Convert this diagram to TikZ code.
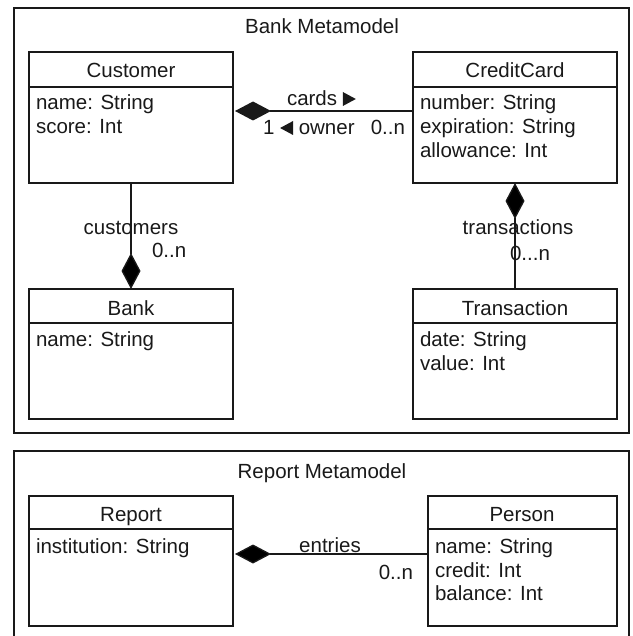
\documentclass[tikz,border=0pt]{standalone}
\usepackage{fontspec}
\setmainfont{Liberation Sans}
\usetikzlibrary{arrows.meta,calc}
\definecolor{ink}{RGB}{25,25,25}
% small filled direction triangles for association names
\newcommand{\rtri}{\tikz[baseline=0pt]\fill[ink] (0pt,0pt) -- (0pt,14pt) -- (13pt,7pt) -- cycle;}
\newcommand{\ltri}{\tikz[baseline=0pt]\fill[ink] (13pt,0pt) -- (13pt,14pt) -- (0pt,7pt) -- cycle;}

\begin{document}
\begin{tikzpicture}[x=1pt,y=-1pt,
  every node/.style={inner sep=0pt, outer sep=0pt, text=ink,
    font=\fontsize{20.5}{24}\selectfont},
  pkg/.style={draw=ink, line width=1.3pt, anchor=north west},
  cls/.style={draw=ink, line width=1.4pt, anchor=north west},
  hdr/.style={draw=ink, line width=1.4pt},
  ctitle/.style={anchor=base},
  attr/.style={anchor=base west},
  assoc/.style={draw=ink, line width=1.3pt, {Diamond[length=36pt,width=19pt]}-},
]
\useasboundingbox (0,0) rectangle (632,636);
\clip (0,0) rectangle (632,636);

% ---------- packages ----------
\node[pkg, minimum width=615pt, minimum height=425pt] (bankpkg) at (14,8) {};
\node[ctitle] (bankpkgT) at (322,34) {Bank Metamodel};
\node[pkg, minimum width=615pt, minimum height=200pt] (reportpkg) at (14,451) {};
\node[ctitle] (reportpkgT) at (322,478) {Report Metamodel};

% ---------- Bank metamodel classes ----------
\node[cls, minimum width=204pt, minimum height=131pt] (customer) at (29,52) {};
\draw[hdr] ($(customer.north west)+(0,35)$) -- ($(customer.north east)+(0,35)$);
\node[ctitle] (customerT) at (131,78) {Customer};
\node[attr] (customerA1) at (36,110) {name: String};
\node[attr] (customerA2) at (36,134) {score: Int};

\node[cls, minimum width=204pt, minimum height=131pt] (creditcard) at (413,52) {};
\draw[hdr] ($(creditcard.north west)+(0,35)$) -- ($(creditcard.north east)+(0,35)$);
\node[ctitle] (creditcardT) at (515,78) {CreditCard};
\node[attr] (creditcardA1) at (420,110) {number: String};
\node[attr] (creditcardA2) at (420,134) {expiration: String};
\node[attr] (creditcardA3) at (420,158) {allowance: Int};

\node[cls, minimum width=204pt, minimum height=130pt] (bank) at (29,289) {};
\draw[hdr] ($(bank.north west)+(0,34)$) -- ($(bank.north east)+(0,34)$);
\node[ctitle] (bankT) at (131,315) {Bank};
\node[attr] (bankA1) at (36,346) {name: String};

\node[cls, minimum width=204pt, minimum height=130pt] (transaction) at (413,289) {};
\draw[hdr] ($(transaction.north west)+(0,34)$) -- ($(transaction.north east)+(0,34)$);
\node[ctitle] (transactionT) at (515,315) {Transaction};
\node[attr] (transactionA1) at (420,346) {date: String};
\node[attr] (transactionA2) at (420,370) {value: Int};

% ---------- Bank metamodel associations ----------
\draw[assoc] ($(customer.north east)+(2,59)$) -- ($(creditcard.north west)+(0,59)$);
\node[anchor=base west] (cardsL) at (287,106) {cards \rtri};
\node[anchor=base west] (ownerL) at (263,135) {1 \ltri\ owner};
\node[anchor=base east] (cardsM) at (405,135) {0..n};

\draw[assoc] (bank.north) -- (customer.south);
\node[anchor=base] (customersL) at (131,234) {customers};
\node[anchor=base west] (customersM) at (152,257) {0..n};

\draw[assoc] (creditcard.south) -- (transaction.north);
\node[anchor=base] (transactionsL) at (518,234) {transactions};
\node[anchor=base west] (transactionsM) at (510,260) {0...n};

% ---------- Report metamodel ----------
\node[cls, minimum width=204pt, minimum height=130pt] (report) at (29,496) {};
\draw[hdr] ($(report.north west)+(0,33)$) -- ($(report.north east)+(0,33)$);
\node[ctitle] (reportT) at (131,521) {Report};
\node[attr] (reportA1) at (36,553) {institution: String};

\node[cls, minimum width=189pt, minimum height=130pt] (person) at (428,496) {};
\draw[hdr] ($(person.north west)+(0,33)$) -- ($(person.north east)+(0,33)$);
\node[ctitle] (personT) at (522,521) {Person};
\node[attr] (personA1) at (435,553) {name: String};
\node[attr] (personA2) at (435,577) {credit: Int};
\node[attr] (personA3) at (435,600) {balance: Int};

\draw[assoc] ($(report.north east)+(2,58)$) -- ($(person.north west)+(0,58)$);
\node[anchor=base] (entriesL) at (330,552) {entries};
\node[anchor=base east] (entriesM) at (413,579) {0..n};
\end{tikzpicture}
\end{document}
